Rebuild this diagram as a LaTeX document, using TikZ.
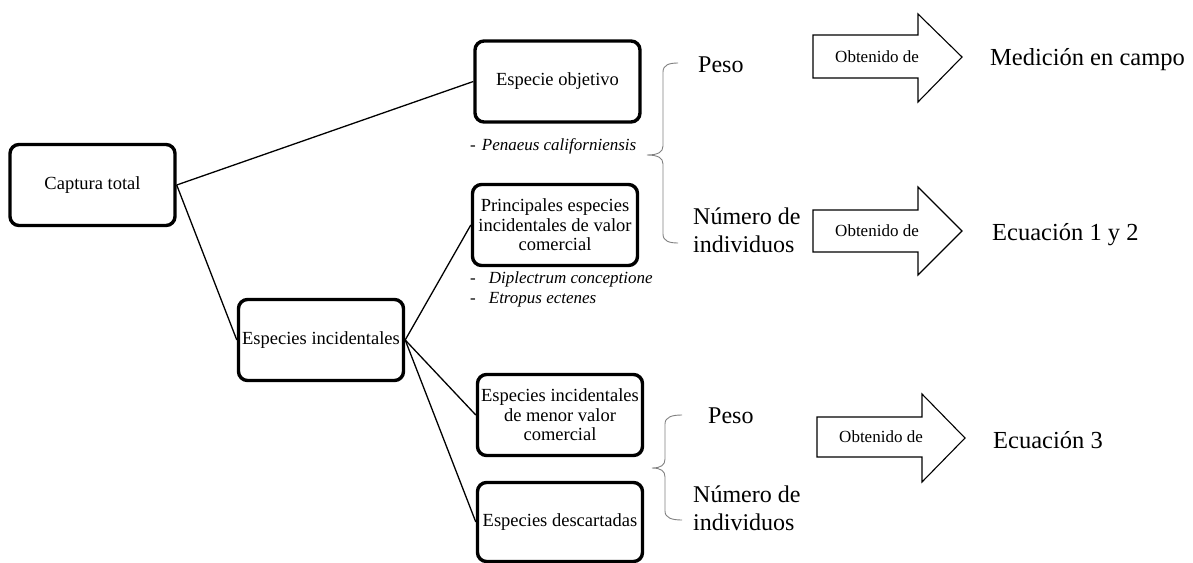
\documentclass[tikz,border=0pt]{standalone}
\usepackage{fontspec}
\setmainfont{Liberation Serif}
\begin{document}
\begin{tikzpicture}[x=1pt,y=-1pt,
  box/.style={draw, line width=3.4pt, rounded corners=9pt, minimum width=165pt,
    minimum height=81pt, align=center, inner sep=1pt,
    font=\fontsize{18.5}{19.5}\selectfont},
  conn/.style={line width=1.3pt},
  arr/.style={draw, line width=1.1pt, line join=miter},
  brc/.style={draw=gray, line width=0.9pt},
  big/.style={inner sep=0pt, anchor=base west, font=\fontsize{24}{28}\selectfont},
  bigr/.style={inner sep=0pt, anchor=base west, font=\fontsize{24.5}{28}\selectfont},
  ital/.style={inner sep=0pt, anchor=base west, font=\fontsize{17}{20}\selectfont},
  obt/.style={inner sep=0pt, font=\fontsize{17}{20}\selectfont}]
\useasboundingbox (0,0) rectangle (1193,562);

% boxes
\node[box] (cap) at (92.5,185) {Captura total};
\node[box] (obj) at (557.5,81.5) {Especie objetivo};
\node[box] (princ) at (555,225) {Principales especies\\incidentales de valor\\comercial};
\node[box] (inc) at (321,340) {Especies incidentales};
\node[box] (menor) at (560,415) {Especies incidentales\\de menor valor\\comercial};
\node[box, minimum height=79pt] (desc) at (560,522) {Especies descartadas};

% connectors
\draw[conn] (cap.east) -- (obj.west);
\draw[conn] (cap.east) -- (inc.west);
\draw[conn] (inc.east) -- (princ.west);
\draw[conn] (inc.east) -- (menor.west);
\draw[conn] (inc.east) -- (desc.west);

% species lists
\node[ital] (pen) at (470,150) {-\hspace{6pt}\textit{Penaeus californiensis}};
\node[ital] (dip) at (470,283) {-\hspace{13pt}\textit{Diplectrum conceptione}};
\node[ital] (etr) at (470,303) {-\hspace{13pt}\textit{Etropus ectenes}};

% upper brace
\draw[brc] (678,63) .. controls (669,63) and (663,65) .. (663,72) -- (663,146)
  .. controls (663,152) and (658,155) .. (647,155)
  .. controls (658,155) and (663,158) .. (663,164) -- (663,234)
  .. controls (663,241) and (669,243) .. (678,243);
\node[big] (peso1) at (698,72) {Peso};
\node[big] (num1) at (693,224) {Número de};
\node[big] (ind1) at (693,252) {individuos};

% lower brace
\draw[brc] (682,415) .. controls (672,415) and (665,417) .. (665,424) -- (665,459)
  .. controls (665,465) and (661,468) .. (652,468)
  .. controls (661,468) and (665,471) .. (665,477) -- (665,511)
  .. controls (665,518) and (672,520) .. (682,520);
\node[big] (peso2) at (708,423) {Peso};
\node[big] (num2) at (693,502) {Número de};
\node[big] (ind2) at (693,530) {individuos};

% arrows
\draw[arr] (813,35) -- (918,35) -- (918,14) -- (962,57) -- (918,102) -- (918,78) -- (813,78) -- cycle;
\node[obt] (o1) at (877,57) {Obtenido de};
\draw[arr] (813,210) -- (918,210) -- (918,187) -- (962,231) -- (918,275) -- (918,252) -- (813,252) -- cycle;
\node[obt] (o2) at (877,231) {Obtenido de};
\draw[arr] (817,417) -- (922,417) -- (922,394) -- (965,438) -- (922,482) -- (922,457) -- (817,457) -- cycle;
\node[obt] (o3) at (881,437) {Obtenido de};

% results
\node[bigr] (r1) at (990,65) {Medición en campo};
\node[bigr] (r2) at (992,240) {Ecuación 1 y 2};
\node[bigr] (r3) at (993,448) {Ecuación 3};
\end{tikzpicture}
\end{document}
